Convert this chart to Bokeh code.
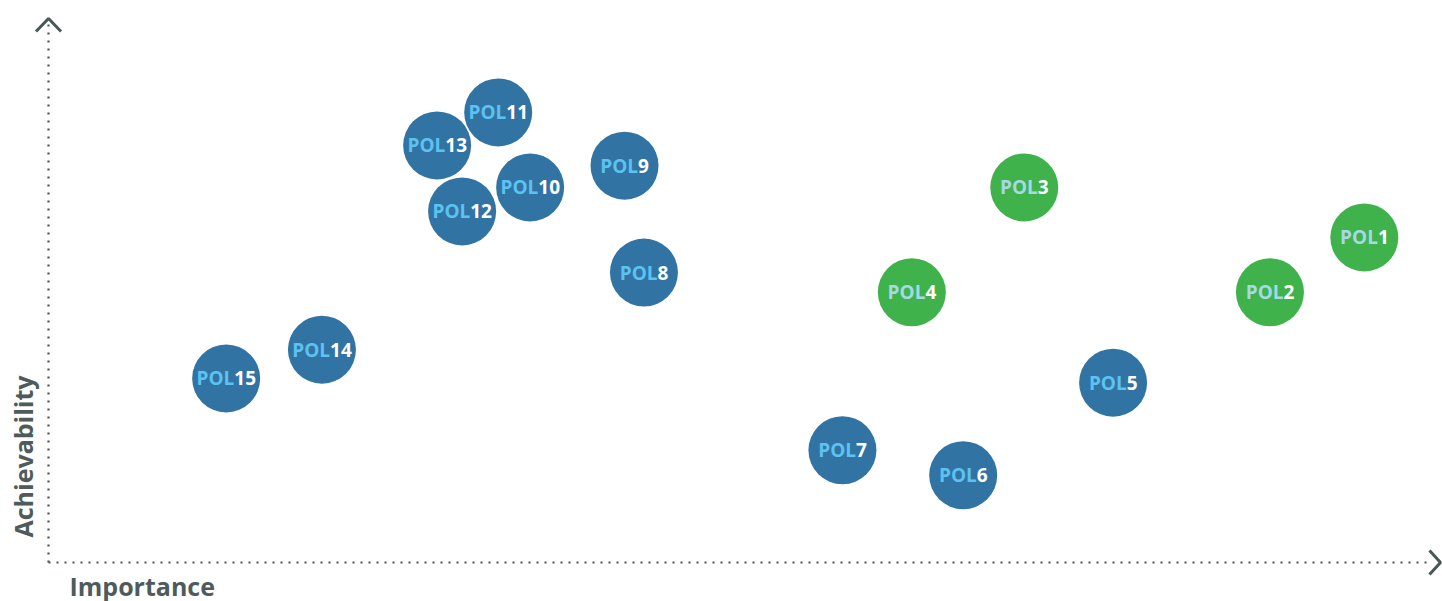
from bokeh.plotting import figure
from bokeh.models import Range1d, ColumnDataSource, Label
from bokeh.core.properties import value
from bokeh.embed import file_html
from bokeh.resources import INLINE
import math

# ---- data (importance / achievability on 0-100 scales) ----
names = ["POL1", "POL2", "POL3", "POL4", "POL5", "POL6", "POL7", "POL8",
         "POL9", "POL10", "POL11", "POL12", "POL13", "POL14", "POL15"]
importance = [94.8, 88.0, 70.3, 62.2, 76.7, 65.9, 57.2, 42.9,
              41.5, 34.7, 32.4, 29.8, 28.0, 19.7, 12.8]
achievability = [61.1, 50.8, 70.5, 50.8, 33.8, 16.4, 21.1, 54.5,
                 74.6, 70.5, 84.6, 66.0, 78.4, 40.0, 34.6]
groups = ["green"] * 4 + ["blue"] * 11
x_label = "Importance"
y_label = "Achievability"

# ---- styling ----
W, H = 1442, 601
OX, OY = 48, 562          # origin in canvas pixels (from top-left)
KX, KY = 13.88, 5.32       # pixels per unit
AXIS_COL = "#4a5757"
LABEL_COL = "#4f5b5b"
FILL = {"green": "#3fb24c", "blue": "#3174a4"}
PREFIX_COL = {"green": "#a6d9e3", "blue": "#5cc2f0"}
FONT = "Open Sans"
FS = 19

def dx(px):  # canvas x pixel -> data
    return (px - OX) / KX

def dy(py):  # canvas y pixel (from top) -> data
    return (OY - py) / KY

p = figure(width=W, height=H, output_backend="svg", toolbar_location=None,
           x_range=Range1d(dx(0), dx(W)), y_range=Range1d(dy(H), dy(0)),
           min_border=0, x_axis_location=None, y_axis_location=None,
           outline_line_color=None)
p.grid.visible = False
p.background_fill_color = "white"
p.border_fill_color = "white"

# dotted axes
p.line([0, dx(1432)], [0, 0], line_color=AXIS_COL, line_width=2.2, line_dash="2 6")
p.line([0, 0], [0, dy(22)], line_color=AXIS_COL, line_width=2.2, line_dash="2 6")
# chevrons
p.line([dx(OX - 12.5), dx(OX), dx(OX + 12.5)], [dy(31), dy(18), dy(31)],
       line_color=AXIS_COL, line_width=3)
p.line([dx(1429), dx(1440), dx(1429)], [dy(OY - 12), dy(OY), dy(OY + 12)],
       line_color=AXIS_COL, line_width=3)

# bubbles
prefix = [n[:3] for n in names]
nums = [n[3:] for n in names]
pol_w = 2.0 * FS
num_w = [len(s) * 0.572 * FS for s in nums]
offs = [(pol_w - w) / 2 for w in num_w]
src = ColumnDataSource(dict(
    x=importance, y=achievability,
    fill=[FILL[g] for g in groups],
    pcol=[PREFIX_COL[g] for g in groups],
    prefix=prefix, num=nums, off=offs))

p.scatter("x", "y", source=src, marker="circle", size=68,
          fill_color="fill", line_color=None)
p.text("x", "y", text="prefix", source=src, x_offset="off",
       text_align="right", text_baseline="middle",
       text_font=value(FONT), text_font_style="bold",
       text_font_size=f"{FS}px", text_color="pcol")
p.text("x", "y", text="num", source=src, x_offset="off",
       text_align="left", text_baseline="middle",
       text_font=value(FONT), text_font_style="bold",
       text_font_size=f"{FS}px", text_color="white")

# axis titles
p.add_layout(Label(x=69, y=16, x_units="screen", y_units="screen",
                   text=x_label, text_font=FONT, text_font_style="bold",
                   text_font_size="25px", text_color=LABEL_COL,
                   text_align="left", text_baseline="alphabetic"))
p.add_layout(Label(x=22, y=H - 456, x_units="screen", y_units="screen",
                   text=y_label, angle=math.pi / 2, text_font=FONT,
                   text_font_style="bold", text_font_size="25px",
                   text_color=LABEL_COL, text_align="center",
                   text_baseline="middle"))

open("out.html", "w").write(file_html(p, INLINE))
